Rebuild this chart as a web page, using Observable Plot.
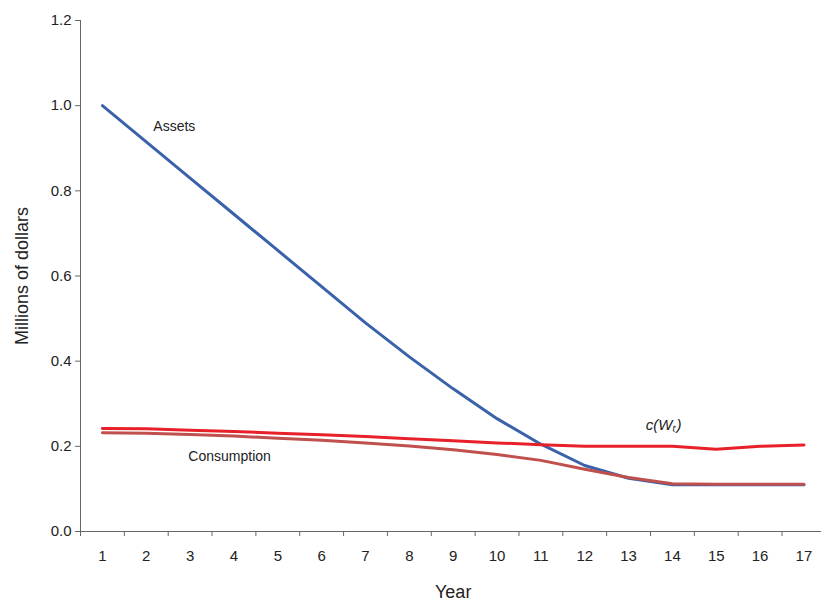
<!DOCTYPE html>
<html><head><meta charset="utf-8">
<script src="https://cdn.jsdelivr.net/npm/d3@7"></script>
<script src="https://cdn.jsdelivr.net/npm/@observablehq/plot@0.6"></script>
<style>body{margin:0;background:#fff;font-family:Arial,"Liberation Sans",sans-serif}</style>
</head><body><div id="chart"></div>
<script>
const years = d3.range(1, 18);
const assets = [1.0, 0.915, 0.83, 0.745, 0.66, 0.575, 0.49, 0.41, 0.335, 0.265, 0.205, 0.155, 0.125, 0.11, 0.11, 0.11, 0.11];
const cw = [0.242, 0.241, 0.238, 0.235, 0.231, 0.227, 0.223, 0.218, 0.213, 0.208, 0.204, 0.200, 0.200, 0.200, 0.193, 0.200, 0.203];
const consumption = [0.232, 0.231, 0.228, 0.224, 0.219, 0.214, 0.208, 0.201, 0.192, 0.181, 0.167, 0.146, 0.127, 0.112, 0.111, 0.111, 0.111];

const rows = (vals) => years.map((y, i) => ({year: y, value: vals[i]}));

const plot = Plot.plot({
  width: 821, height: 601,
  marginLeft: 80, marginRight: 0, marginTop: 20, marginBottom: 70,
  style: {fontFamily: "Arial, 'Liberation Sans', sans-serif", fontSize: "15px", color: "#222"},
  x: {type: "linear", domain: [0.5, 17.4]},
  y: {type: "linear", domain: [0, 1.2]},
  marks: [
    Plot.ruleX([0.5], {stroke: "#666"}),
    Plot.ruleY([0], {stroke: "#666"}),
    Plot.axisY(d3.range(0, 1.21, 0.2), {tickFormat: d3.format(".1f"), tickSize: 5, tickPadding: 4, stroke: "#666",
      label: "Millions of dollars", labelAnchor: "center", labelOffset: 65, labelArrow: "none", fontSize: 15}),
    Plot.axisX(d3.range(0.5, 17.5, 1), {tickFormat: () => "", tickSize: 5, stroke: "#666", label: null}),
    Plot.text(years, {x: d => d, y: 0, dy: 25, text: d => String(d), fontSize: 15}),
    Plot.text(["Year"], {x: 9, y: 0, dy: 61, fontSize: 18}),
    Plot.line(rows(assets), {x: "year", y: "value", stroke: "#3a62ab", strokeWidth: 3}),
    Plot.line(rows(consumption), {x: "year", y: "value", stroke: "#c0504d", strokeWidth: 3}),
    Plot.line(rows(cw), {x: "year", y: "value", stroke: "#e8202a", strokeWidth: 3}),
    Plot.text(["Assets"], {x: 2.64, y: 0.95, fontSize: 14}),
    Plot.text(["Consumption"], {x: 3.9, y: 0.176, fontSize: 14}),
    Plot.text(["c(Wₜ)"], {x: 13.8, y: 0.25, fontSize: 15, fontStyle: "italic"})
  ]
});
plot.querySelectorAll("g[aria-label='y-axis label'] text").forEach(t => t.style.fontSize = "18px");
document.getElementById("chart").appendChild(plot);
</script></body></html>
